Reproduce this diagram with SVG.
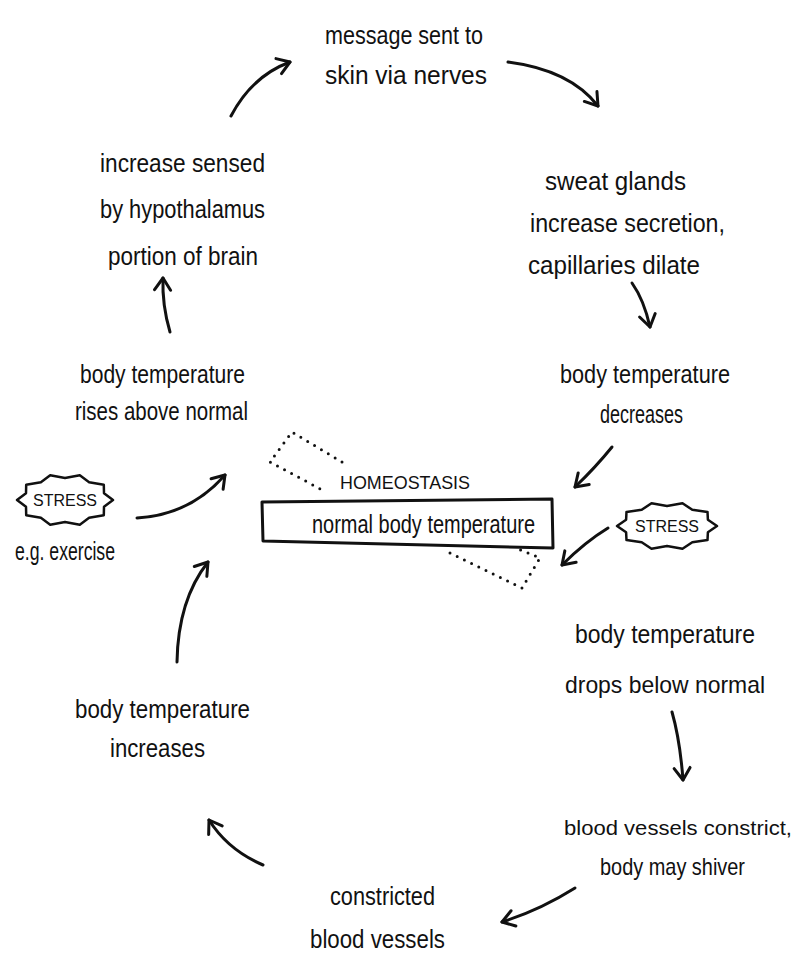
<svg xmlns="http://www.w3.org/2000/svg" width="801" height="965" viewBox="0 0 801 965">
<style>
.t{font-family:"Liberation Sans Narrow","Liberation Sans",Arial,sans-serif;font-size:26px;fill:#111;}
.s{font-family:"Liberation Sans Narrow","Liberation Sans",Arial,sans-serif;font-size:16px;fill:#111;}
.c{fill:none;stroke:#111;stroke-width:3;stroke-linecap:round;}
.b{fill:#fff;stroke:#111;stroke-width:2.5;stroke-linejoin:round;}
.d{fill:none;stroke:#111;stroke-width:3;stroke-linecap:round;stroke-dasharray:0 8;}
</style>
<defs>
<marker id="ah" viewBox="-14 -10 16 20" markerWidth="16" markerHeight="20" refX="0" refY="0" orient="auto" markerUnits="userSpaceOnUse">
<path d="M-12,-8 L0,0 L-12,8" fill="none" stroke="#111" stroke-width="3" stroke-linecap="round" stroke-linejoin="round"/>
</marker>
</defs>
<rect width="801" height="965" fill="#fff"/>

<g id="message">
<text class="t" x="325" y="44" textLength="158" lengthAdjust="spacingAndGlyphs">message sent to</text>
<text class="t" x="325" y="84" textLength="162" lengthAdjust="spacingAndGlyphs">skin via nerves</text>
</g>
<g id="sweat">
<text class="t" x="545" y="190" textLength="141" lengthAdjust="spacingAndGlyphs">sweat glands</text>
<text class="t" x="530" y="232" textLength="195" lengthAdjust="spacingAndGlyphs">increase secretion,</text>
<text class="t" x="528" y="274" textLength="172" lengthAdjust="spacingAndGlyphs">capillaries dilate</text>
</g>
<g id="decreases">
<text class="t" x="560" y="383" textLength="170" lengthAdjust="spacingAndGlyphs">body temperature</text>
<text class="t" x="600" y="423" textLength="83" lengthAdjust="spacingAndGlyphs">decreases</text>
</g>
<g id="drops">
<text class="t" x="575" y="643" textLength="180" lengthAdjust="spacingAndGlyphs">body temperature</text>
<text class="t" x="565" y="693" textLength="200" lengthAdjust="spacingAndGlyphs" style="font-size:24px">drops below normal</text>
</g>
<g id="constrict">
<text class="t" x="564" y="835" textLength="228" lengthAdjust="spacingAndGlyphs" style="font-size:20px">blood vessels constrict,</text>
<text class="t" x="600" y="875" textLength="145" lengthAdjust="spacingAndGlyphs" style="font-size:24px">body may shiver</text>
</g>
<g id="constricted">
<text class="t" x="330" y="905" textLength="105" lengthAdjust="spacingAndGlyphs">constricted</text>
<text class="t" x="310" y="948" textLength="135" lengthAdjust="spacingAndGlyphs">blood vessels</text>
</g>
<g id="increases">
<text class="t" x="75" y="718" textLength="175" lengthAdjust="spacingAndGlyphs">body temperature</text>
<text class="t" x="110" y="757" textLength="95" lengthAdjust="spacingAndGlyphs">increases</text>
</g>
<g id="rises">
<text class="t" x="80" y="383" textLength="165" lengthAdjust="spacingAndGlyphs">body temperature</text>
<text class="t" x="75" y="420" textLength="173" lengthAdjust="spacingAndGlyphs">rises above normal</text>
</g>
<g id="sensed">
<text class="t" x="100" y="172" textLength="165" lengthAdjust="spacingAndGlyphs">increase sensed</text>
<text class="t" x="100" y="218" textLength="165" lengthAdjust="spacingAndGlyphs">by hypothalamus</text>
<text class="t" x="108" y="265" textLength="150" lengthAdjust="spacingAndGlyphs">portion of brain</text>
</g>

<g id="stress-left">
<path class="b" d="M113,500 L104,506.8 L103.8,515.3 L89.1,517.8 L79.8,524.7 L65,522 L50.2,524.7 L40.9,517.8 L26.2,515.3 L26,506.8 L17,500 L26,493.2 L26.2,484.7 L40.9,482.2 L50.2,475.3 L65,478 L79.8,475.3 L89.1,482.2 L103.8,484.7 L104,493.2 Z"/>
<text class="s" x="65" y="506" text-anchor="middle">STRESS</text>
<text class="t" x="15" y="560" textLength="100" lengthAdjust="spacingAndGlyphs">e.g. exercise</text>
</g>
<g id="stress-right">
<path class="b" d="M717,526 L707.9,532.2 L707.5,540.1 L692.3,542.2 L682.5,548.8 L667,546 L651.5,548.8 L641.7,542.2 L626.5,540.1 L626.1,532.2 L617,526 L626.1,519.8 L626.5,511.9 L641.7,509.8 L651.5,503.2 L667,506 L682.5,503.2 L692.3,509.8 L707.5,511.9 L707.9,519.8 Z"/>
<text class="s" x="667" y="532" text-anchor="middle">STRESS</text>
</g>

<g id="homeostasis">
<path class="d" d="M342,462 L292,432 L270,462 L326,492"/>
<path class="d" d="M450,553 L522,588 L540,558 L518,549"/>
<path fill="#fff" stroke="#111" stroke-width="3" stroke-linejoin="round" d="M262,502 L552,499 L553,548 L263,541 Z"/>
<text class="s" x="340" y="489" textLength="130" lengthAdjust="spacingAndGlyphs" style="font-size:19px">HOMEOSTASIS</text>
<text class="t" x="312" y="533" textLength="223" lengthAdjust="spacingAndGlyphs">normal body temperature</text>
</g>

<g id="connectors">
<path class="c" marker-end="url(#ah)" d="M231,116 Q252,76 290,62"/>
<path class="c" marker-end="url(#ah)" d="M508,62 Q570,70 598,106"/>
<path class="c" marker-end="url(#ah)" d="M632,283 Q644,300 650,327"/>
<path class="c" marker-end="url(#ah)" d="M612,447 Q595,468 575,487"/>
<path class="c" marker-end="url(#ah)" d="M608,528 Q585,542 562,565"/>
<path class="c" marker-end="url(#ah)" d="M672,712 Q680,740 683,780"/>
<path class="c" marker-end="url(#ah)" d="M575,888 Q540,910 502,922"/>
<path class="c" marker-end="url(#ah)" d="M263,865 Q228,850 209,820"/>
<path class="c" marker-end="url(#ah)" d="M177,662 Q178,600 208,562"/>
<path class="c" marker-end="url(#ah)" d="M137,518 Q190,515 225,475"/>
<path class="c" marker-end="url(#ah)" d="M170,332 Q162,305 163,278"/>
</g>
</svg>
